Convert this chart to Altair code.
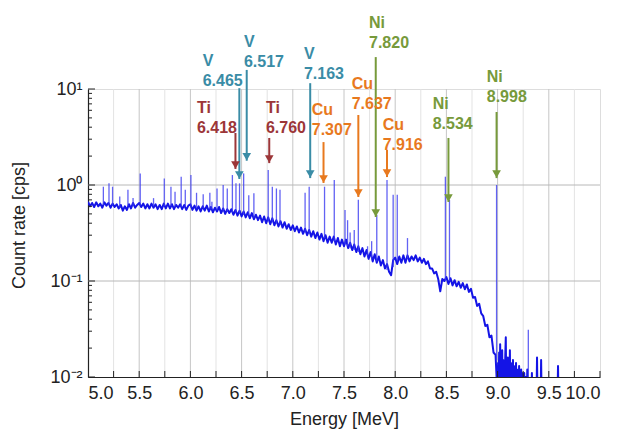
import altair as alt
import pandas as pd

# ---------------- data ----------------
# smooth spectrum (continuum) sampled every 0.02 MeV from 5.00 to 8.98 MeV
cont_start = 5.0
cont_step = 0.02
continuum = [
    0.67, 0.60, 0.65, 0.59, 0.66,  0.60, 0.64, 0.58, 0.66, 0.61,
    0.65, 0.58, 0.64, 0.59, 0.63,  0.57, 0.62, 0.54, 0.60, 0.55,
    0.63, 0.57, 0.65, 0.58, 0.62,  0.65, 0.59, 0.64, 0.57, 0.63,
    0.57, 0.64, 0.58, 0.63, 0.56,  0.62, 0.56, 0.64, 0.57, 0.64,
    0.57, 0.63, 0.56, 0.62, 0.58,  0.63, 0.56, 0.62, 0.55, 0.61,
    0.63, 0.55, 0.61, 0.54, 0.60,  0.53, 0.60, 0.54, 0.61, 0.53,
    0.59, 0.52, 0.58, 0.53, 0.59,  0.51, 0.57, 0.50, 0.56, 0.51,
    0.56, 0.49, 0.55, 0.48, 0.54,  0.47, 0.53, 0.46, 0.52, 0.45,
    0.51, 0.44, 0.49, 0.43, 0.48,  0.41, 0.47, 0.40, 0.46, 0.39,
    0.45, 0.38, 0.43, 0.37, 0.42,  0.36, 0.41, 0.35, 0.39, 0.34,
    0.38, 0.33, 0.37, 0.32, 0.36,  0.31, 0.35, 0.30, 0.34, 0.29,
    0.33, 0.28, 0.32, 0.27, 0.31,  0.26, 0.30, 0.25, 0.29, 0.25,
    0.29, 0.24, 0.28, 0.23, 0.27,  0.23, 0.27, 0.22, 0.25, 0.21,
    0.24, 0.20, 0.23, 0.19, 0.22,  0.18, 0.21, 0.17, 0.20, 0.16,
    0.19, 0.155, 0.18, 0.145, 0.165, 0.135, 0.15, 0.125, 0.115, 0.165,
    0.175, 0.15, 0.18, 0.155, 0.185, 0.155, 0.185, 0.16, 0.18, 0.165,
    0.185, 0.16, 0.175, 0.155, 0.17, 0.15, 0.16, 0.135, 0.135, 0.12,
    0.125, 0.105, 0.078, 0.105, 0.10, 0.11, 0.093, 0.107, 0.09, 0.102,
    0.088, 0.098, 0.085, 0.095, 0.082, 0.092, 0.077, 0.083, 0.067, 0.068,
    0.055, 0.058, 0.046, 0.043, 0.034, 0.035, 0.026, 0.027, 0.018, 0.017,
]
# high-energy tail sampled every 0.005 MeV from 9.000 MeV (values below 0.01 fall off the axis)
tail_start = 9.0
tail_step = 0.005
tail = [
    0.006, 0.014, 0.007, 0.018, 0.006, 0.022, 0.008, 0.016, 0.006, 0.019,
    0.007, 0.015, 0.006, 0.013, 0.008, 0.017, 0.026, 0.007, 0.014, 0.006,
    0.016, 0.007, 0.013, 0.006, 0.019, 0.006, 0.014, 0.007, 0.012, 0.006,
    0.015, 0.006, 0.013, 0.007, 0.011, 0.006, 0.014, 0.006, 0.012, 0.006,
    0.011, 0.006, 0.013, 0.006, 0.010, 0.006, 0.012, 0.006, 0.011, 0.006,
    0.010, 0.006, 0.011, 0.006, 0.006, 0.010, 0.006, 0.006, 0.012, 0.006,
    0.006, 0.006, 0.006, 0.009, 0.006, 0.006, 0.006, 0.011, 0.006, 0.006,
    0.006, 0.006, 0.006, 0.006, 0.006, 0.006, 0.006, 0.016, 0.006, 0.006,
    0.006, 0.006, 0.006, 0.006, 0.006, 0.015, 0.006, 0.006, 0.006, 0.006,
    0.006, 0.006, 0.006, 0.006, 0.006, 0.006, 0.006, 0.006, 0.006, 0.006,
    0.006, 0.006, 0.006, 0.006, 0.006, 0.006, 0.006, 0.006, 0.006, 0.006,
    0.006, 0.006, 0.006, 0.006, 0.006, 0.006, 0.006, 0.006, 0.013, 0.006,
    0.006, 0.006, 0.006, 0.006, 0.006,
]

# narrow gamma peaks: energy [MeV], top [cps], foot [cps]
peak_energy = [5.15, 5.205, 5.24, 5.31, 5.39, 5.44, 5.51, 5.64, 5.745, 5.81,
               5.85, 5.91, 5.95, 6.005, 6.06, 6.125, 6.19, 6.21, 6.26, 6.32,
               6.36, 6.41, 6.445, 6.48, 6.52, 6.57, 6.62, 6.76, 6.80, 6.84,
               6.875, 7.12, 7.16, 7.31, 7.405, 7.51, 7.535, 7.56, 7.60, 7.64,
               7.73, 7.77, 7.82, 7.92, 7.98, 8.02, 8.12, 8.49, 8.53, 8.99, 9.30]
peak_top = [0.96, 1.04, 0.96, 0.76, 0.89, 0.73, 1.32, 0.73, 1.17, 0.96,
            0.85, 1.22, 0.89, 1.27, 0.83, 0.80, 0.83, 0.67, 0.92, 1.0,
            0.92, 1.27, 1.04, 1.04, 1.32, 0.78, 0.82, 1.43, 0.96, 0.92,
            0.89, 0.83, 0.96, 0.96, 1.13, 0.55, 0.43, 0.32, 0.34, 0.70,
            0.23, 0.26, 0.49, 1.13, 0.79, 0.79, 0.28, 1.22, 0.70, 1.0, 0.031]
peak_foot = [0.62, 0.62, 0.61, 0.58, 0.60, 0.60, 0.61, 0.60, 0.60, 0.60,
             0.60, 0.59, 0.59, 0.58, 0.57, 0.57, 0.56, 0.56, 0.55, 0.54,
             0.53, 0.52, 0.51, 0.50, 0.49, 0.48, 0.46, 0.42, 0.41, 0.40,
             0.39, 0.32, 0.31, 0.28, 0.26, 0.24, 0.23, 0.22, 0.21, 0.20,
             0.18, 0.17, 0.16, 0.13, 0.14, 0.16, 0.17, 0.10, 0.10, 0.015, 0.006]

# annotations
ann_element = ["V", "V", "Ti", "Ti", "V", "Cu", "Cu", "Ni", "Cu", "Ni", "Ni"]
ann_number = ["6.465", "6.517", "6.418", "6.760", "7.163", "7.307", "7.637",
              "7.820", "7.916", "8.534", "8.998"]
ann_label_x = [6.120, 6.523, 6.064, 6.738, 7.109, 7.185, 7.575, 7.744, 7.878, 8.366, 8.894]
ann_label_y = [19.5, 30.9, 6.35, 6.35, 23.2, 6.05, 11.3, 48.8, 4.23, 6.99, 13.4]
ann_arrow_x = [6.478, 6.55, 6.44, 6.77, 7.17, 7.30, 7.64, 7.81, 7.92, 8.52, 8.99]
ann_arrow_top = [10.2, 15.8, 3.48, 3.09, 11.5, 2.80, 5.36, 21.5, 2.32, 3.09, 5.76]
ann_arrow_tip = [1.155, 1.79, 1.47, 1.69, 1.18, 1.05, 0.75, 0.464, 1.21, 0.665, 1.18]

elements = ["Ti", "V", "Cu", "Ni"]
element_colors = ["#9c3638", "#3a8ca6", "#e8791e", "#779a3b"]

x_ticks = [5.0, 5.5, 6.0, 6.5, 7.0, 7.5, 8.0, 8.5, 9.0, 9.5, 10.0]
x_minor = [5.25, 5.5, 5.75, 6.0, 6.25, 6.5, 6.75, 7.0, 7.25, 7.5, 7.75, 8.0, 8.25,
           8.5, 8.75, 9.0, 9.25, 9.5, 9.75, 10.0]
grid_major = [5.5, 6.0, 6.5, 7.0, 7.5, 8.0, 8.5, 9.0, 9.5]
grid_minor = [5.25, 5.75, 6.25, 6.75, 7.25, 7.75, 8.25, 8.75, 9.25, 9.75]
y_decades = [0.01, 0.1, 1, 10]
y_grid = [0.1, 1]
y_minor = [m * d for d in (0.01, 0.1, 1) for m in range(2, 10)]

# ---------------- tables ----------------
spec_E = [round(cont_start + cont_step * i, 3) for i in range(len(continuum))] + \
         [round(tail_start + tail_step * i, 4) for i in range(len(tail))]
spec = pd.DataFrame({"E": spec_E, "v": continuum + tail})
peaks = pd.DataFrame({"E": peak_energy, "top": peak_top, "foot": peak_foot})
ann = pd.DataFrame({
    "el": ann_element, "num": ann_number, "lx": ann_label_x, "ly": ann_label_y,
    "ax": ann_arrow_x, "atop": ann_arrow_top, "atip": ann_arrow_tip,
})

W, H = 512, 288
FONT = "Liberation Sans"
xs = alt.Scale(domain=[5.0, 10.0], nice=False, zero=False)
ys = alt.Scale(type="log", domain=[0.01, 10], nice=False)
col = alt.Color("el:N", scale=alt.Scale(domain=elements, range=element_colors), legend=None)

label_expr = ("datum.value >= 5 ? '10\u00b9' : datum.value >= 0.5 ? '10\u2070' : "
              "datum.value >= 0.05 ? '10\u207b\u00b9' : '10\u207b\u00b2'")

gmin = alt.Chart(pd.DataFrame({"E": grid_minor})).mark_rule(color="#e3e3e3", strokeWidth=1).encode(
    x=alt.X("E:Q", scale=xs,
            axis=alt.Axis(values=x_ticks, format=".1f", title="Energy [MeV]", ticks=False, grid=False,
                          domainColor="#222", domainWidth=1.2, labelFontSize=18, labelColor="#222",
                          labelPadding=7, titleFontSize=18, titleFontWeight="normal", titleColor="#222",
                          titlePadding=8, labelFont=FONT, titleFont=FONT)),
    y=alt.value(0), y2=alt.value(H))
gmaj = alt.Chart(pd.DataFrame({"E": grid_major})).mark_rule(color="#c6c6c6", strokeWidth=1).encode(
    x=alt.X("E:Q", scale=xs), y=alt.value(0), y2=alt.value(H))
ygrid = alt.Chart(pd.DataFrame({"v": y_grid})).mark_rule(color="#b8b8b8", strokeWidth=1).encode(
    y=alt.Y("v:Q", scale=ys,
            axis=alt.Axis(values=y_decades, labelExpr=label_expr, title="Count rate [cps]", ticks=False,
                          grid=False, domainColor="#222", domainWidth=1.2, labelFontSize=18,
                          labelColor="#222", labelPadding=6, titleFontSize=18, titleFontWeight="normal",
                          titleColor="#222", labelFont=FONT, titleFont=FONT, titleX=-69, titleY=136,
                          titleAngle=-90, titleAlign="center", titleBaseline="middle")),
    x=alt.value(0), x2=alt.value(W))

line = alt.Chart(spec).mark_line(color="#1414e6", strokeWidth=2.0, clip=True, interpolate="linear",
                                 strokeJoin="round").encode(
    x=alt.X("E:Q", scale=xs), y=alt.Y("v:Q", scale=ys), order="E:Q")
prules = alt.Chart(peaks).mark_rule(color="#3b3bf0", strokeWidth=1.3, opacity=0.8, clip=True).encode(
    x=alt.X("E:Q", scale=xs), y=alt.Y("top:Q", scale=ys), y2="foot:Q")

ymin = alt.Chart(pd.DataFrame({"v": y_minor})).mark_rule(color="#222", strokeWidth=1).encode(
    y=alt.Y("v:Q", scale=ys), x=alt.value(0), x2=alt.value(4))
ymaj = alt.Chart(pd.DataFrame({"v": y_decades})).mark_rule(color="#222", strokeWidth=1).encode(
    y=alt.Y("v:Q", scale=ys), x=alt.value(0), x2=alt.value(7))
xtk = alt.Chart(pd.DataFrame({"E": x_minor})).mark_rule(color="#222", strokeWidth=1).encode(
    x=alt.X("E:Q", scale=xs), y=alt.value(H), y2=alt.value(H - 6))

arrows = alt.Chart(ann).mark_rule(strokeWidth=2, clip=False).encode(
    x=alt.X("ax:Q", scale=xs), y=alt.Y("atop:Q", scale=ys), y2="atip:Q", color=col)
heads = alt.Chart(ann).mark_point(shape="triangle-down", filled=True, size=75, opacity=1,
                                  yOffset=-4, clip=False).encode(
    x=alt.X("ax:Q", scale=xs), y=alt.Y("atip:Q", scale=ys), color=col)
t1 = alt.Chart(ann).mark_text(align="left", baseline="middle", fontSize=16, fontWeight="bold",
                              font=FONT, clip=False).encode(
    x=alt.X("lx:Q", scale=xs), y=alt.Y("ly:Q", scale=ys), text="el:N", color=col)
t2 = alt.Chart(ann).mark_text(align="left", baseline="middle", fontSize=16, fontWeight="bold",
                              font=FONT, dy=20, clip=False).encode(
    x=alt.X("lx:Q", scale=xs), y=alt.Y("ly:Q", scale=ys), text="num:N", color=col)

chart = alt.layer(gmin, gmaj, ygrid, line, prules, ymin, ymaj, xtk, arrows, heads, t1, t2).properties(
    width=W, height=H,
    padding={"left": 80, "top": 81, "right": 12, "bottom": 52},
    autosize=alt.AutoSizeParams(type="none"),
).configure_view(stroke=None).configure(background="white")

chart.save("out.html", embed_options={"renderer": "svg", "actions": False})
